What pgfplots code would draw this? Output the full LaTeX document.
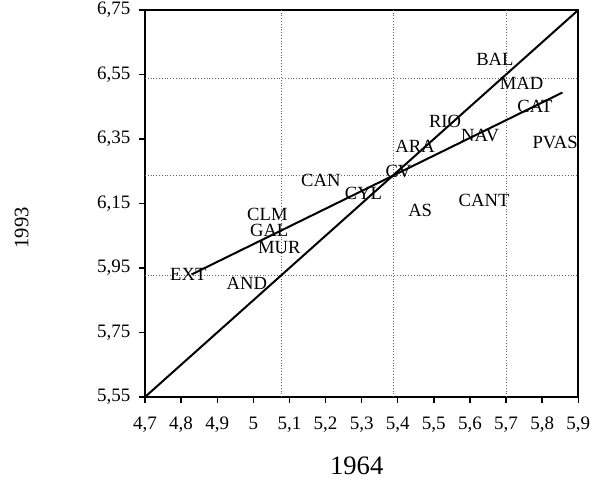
\documentclass[border=0pt]{standalone}
\usepackage{fontspec}
\setmainfont{Liberation Serif}
\usepackage{pgfplots}
\pgfplotsset{compat=1.18}
\begin{document}
\begin{tikzpicture}
\begin{axis}[
  scale only axis, width=216.65pt, height=193.5pt,
  xmin=4.7, xmax=5.9, ymin=5.55, ymax=6.75,
  axis line style={line width=1pt},
  tick pos=left, tick align=outside, major tick length=3pt,
  tick style={line width=0.7pt, black},
  xtick={4.7,4.8,4.9,5.0,5.1,5.2,5.3,5.4,5.5,5.6,5.7,5.8,5.9},
  xticklabels={{4,7},{4,8},{4,9},{5},{5,1},{5,2},{5,3},{5,4},{5,5},{5,6},{5,7},{5,8},{5,9}},
  ytick={5.55,5.75,5.95,6.15,6.35,6.55,6.75},
  yticklabels={{5,55},{5,75},{5,95},{6,15},{6,35},{6,55},{6,75}},
  ticklabel style={font=\fontsize{9.5}{11}\selectfont},
  xticklabel style={yshift=-3.5pt},
  yticklabel style={xshift=-0.8pt},
  extra x ticks={5.079,5.388,5.70},
  extra x tick labels={},
  extra x tick style={grid=major, major tick length=0pt},
  extra y ticks={5.927,6.236,6.538},
  extra y tick labels={},
  extra y tick style={grid=major, major tick length=0pt},
  grid style={densely dotted, black!60, line width=0.4pt},
  xlabel={1964}, ylabel={1993},
  xlabel style={at={(rel axis cs:0.4886,-0.178)}, anchor=center, font=\fontsize{13.3}{15}\selectfont},
  ylabel style={at={(rel axis cs:-0.2846,0.4367)}, anchor=center, font=\fontsize{10.3}{12}\selectfont},
  clip=false,
]
% 45-degree reference line
\addplot[black, line width=1pt] coordinates {(4.7,5.55) (5.9,6.75)};
% fitted regression line
\addplot[black, line width=1pt] coordinates {(4.829,5.930) (5.856,6.494)};
% region labels
\addplot[only marks, mark=none, nodes near coords, point meta=explicit symbolic,
  nodes near coords style={anchor=center, inner sep=0pt, font=\fontsize{9.3}{11}\selectfont}]
  table[meta=lab] {
x y lab
5.669 6.597 BAL
5.743 6.523 MAD
5.780 6.452 CAT
5.531 6.404 RIO
5.628 6.362 NAV
5.836 6.339 PVAS
5.448 6.326 ARA
5.402 6.249 CV
5.187 6.223 CAN
5.305 6.182 CYL
5.462 6.128 AS
5.639 6.159 CANT
5.039 6.117 CLM
5.044 6.066 GAL
5.072 6.014 MUR
4.820 5.930 EXT
4.982 5.903 AND
};
\end{axis}
\path (current axis.south west) ++(-72.5pt,-42pt) coordinate (bbl);
\path (current axis.north east) ++(5.85pt,5pt) coordinate (bbr);
\pgfresetboundingbox
\path[use as bounding box] (bbl) rectangle (bbr);
\end{tikzpicture}
\end{document}
